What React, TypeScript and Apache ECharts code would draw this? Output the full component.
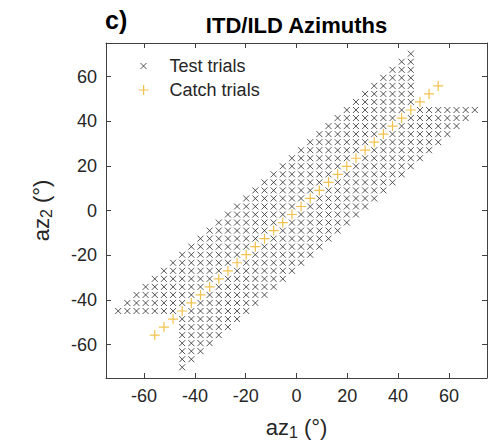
import React, { useEffect, useRef } from "react";
import * as echarts from "echarts";

// Azimuth grid levels (degrees)
const azimuthLevels = [
  -70.2, -66.6, -63, -59.4, -55.8, -52.2, -48.6, -45, -41.4, -37.8,
  -34.2, -30.6, -27, -23.4, -19.8, -16.2, -12.6, -9, -5.4, -1.8,
  1.8, 5.4, 9, 12.6, 16.2, 19.8, 23.4, 27, 30.6, 34.2,
  37.8, 41.4, 45, 48.6, 52.2, 55.8, 59.4, 63, 66.6, 70.2,
];

// For each az2 row (index into azimuthLevels) the first / last az1 column of test trials
const testRowFirstCol = [
  7, 7, 7, 7, 7, 7, 7, 0, 1, 2,
  3, 4, 5, 6, 7, 8, 9, 10, 11, 12,
  13, 14, 15, 16, 17, 18, 19, 20, 21, 22,
  23, 24, 25, 26, 27, 28, 29, 30, 31, 32,
];
const testRowLastCol = [
  7, 8, 9, 10, 11, 12, 13, 14, 15, 16,
  17, 18, 19, 20, 21, 22, 23, 24, 25, 26,
  27, 28, 29, 30, 31, 32, 33, 34, 35, 36,
  37, 38, 39, 32, 32, 32, 32, 32, 32, 32,
];

// Catch trials lie on the diagonal az1 = az2
const catchAzimuths = [
  -55.8, -52.2, -48.6, -45, -41.4, -37.8, -34.2, -30.6, -27, -23.4,
  -19.8, -16.2, -12.6, -9, -5.4, -1.8, 1.8, 5.4, 9, 12.6,
  16.2, 19.8, 23.4, 27, 30.6, 34.2, 37.8, 41.4, 45, 48.6,
  52.2, 55.8,
];

const xTickValues = [-60, -40, -20, 0, 20, 40, 60];
const yTickValues = [-60, -40, -20, 0, 20, 40, 60];
const axisMin = -75;
const axisMax = 75;

const FONT = "'Liberation Sans', Arial, Helvetica, sans-serif";
const TEXT = "#262626";
const AXIS = "#404040";

function buildTestPoints(): number[][] {
  const pts: number[][] = [];
  for (let r = 0; r < azimuthLevels.length; r++) {
    for (let c = testRowFirstCol[r]; c <= testRowLastCol[r]; c++) {
      if (c === r) continue;
      pts.push([azimuthLevels[c], azimuthLevels[r]]);
    }
  }
  return pts;
}

export default function App() {
  const ref = useRef<HTMLDivElement>(null);

  useEffect(() => {
    if (!ref.current) return;
    const chart = echarts.init(ref.current, null, { renderer: "svg" });

    const testPoints = buildTestPoints();
    const catchPoints = catchAzimuths.map((v) => [v, v]);

    const boxAxis = (position: string, showLabel: boolean, ticks: number[]) => ({
      type: "value",
      min: axisMin,
      max: axisMax,
      position,
      axisLine: { show: true, onZero: false, lineStyle: { color: AXIS, width: 1 } },
      axisTick: { show: true, inside: true, length: 5, customValues: ticks, lineStyle: { color: AXIS, width: 1 } },
      axisLabel: {
        show: showLabel,
        customValues: ticks,
        fontSize: 18,
        fontFamily: FONT,
        color: TEXT,
        margin: 9,
      },
      splitLine: { show: false },
    });

    const richName = {
      a: { fontSize: 22, fontFamily: FONT, color: TEXT, lineHeight: 26 },
      s: { fontSize: 16, fontFamily: FONT, color: TEXT, lineHeight: 10, verticalAlign: "bottom" },
    };

    const option: any = {
      animation: false,
      backgroundColor: "#ffffff",
      grid: { left: 106, right: 5, top: 43, bottom: 65, containLabel: false },
      graphic: [
        {
          type: "text",
          x: 105,
          y: 19.5,
          style: { text: "c)", font: `bold 25px ${FONT}`, fill: "#000", textAlign: "left", textVerticalAlign: "middle" },
        },
        {
          type: "text",
          x: 296.5,
          y: 25.5,
          style: { text: "ITD/ILD Azimuths", font: `bold 22px ${FONT}`, fill: "#000", textAlign: "center", textVerticalAlign: "middle" },
        },
      ],
      legend: [
        {
          data: ["Test trials"],
          left: 140,
          top: 56,
          padding: 0,
          itemWidth: 42,
          itemHeight: 6,
          itemStyle: { borderWidth: 1 },
          textStyle: { fontSize: 18, fontFamily: FONT, color: TEXT, lineHeight: 20 },
        },
        {
          data: ["Catch trials"],
          left: 138,
          top: 80,
          padding: 0,
          itemWidth: 42,
          itemHeight: 10,
          itemStyle: { borderWidth: 1.2 },
          textStyle: { fontSize: 18, fontFamily: FONT, color: TEXT, lineHeight: 20 },
        },
      ],
      xAxis: [
        {
          ...boxAxis("bottom", true, xTickValues),
          name: "{a|az}{s|1}{a| (°)}",
          nameLocation: "middle",
          nameGap: 36,
          nameTextStyle: { rich: richName },
        },
        boxAxis("top", false, xTickValues),
      ],
      yAxis: [
        {
          ...boxAxis("left", true, yTickValues),
          name: "{a|az}{s|2}{a| (°)}",
          nameLocation: "middle",
          nameRotate: 90,
          nameGap: 52,
          nameTextStyle: { rich: richName },
        },
        boxAxis("right", false, yTickValues),
      ],
      series: [
        {
          type: "scatter",
          name: "Test trials",
          xAxisIndex: 0,
          yAxisIndex: 0,
          data: testPoints,
          symbol: "path://M0,0L10,10M10,0L0,10",
          symbolSize: 6,
          itemStyle: { color: "rgba(0,0,0,0)", borderColor: "#2a2a2a", borderWidth: 1 },
          silent: true,
        },
        {
          type: "scatter",
          name: "Catch trials",
          xAxisIndex: 0,
          yAxisIndex: 0,
          data: catchPoints,
          symbol: "path://M5,0L5,10M0,5L10,5",
          symbolSize: 10,
          itemStyle: { color: "rgba(0,0,0,0)", borderColor: "#EDB120", borderWidth: 1.2 },
          silent: true,
          z: 3,
        },
      ],
    };

    chart.setOption(option);
    return () => chart.dispose();
  }, []);

  return (
    <div
      ref={ref}
      style={{ position: "fixed", left: 0, top: 0, width: 492, height: 445, background: "#fff" }}
    />
  );
}
